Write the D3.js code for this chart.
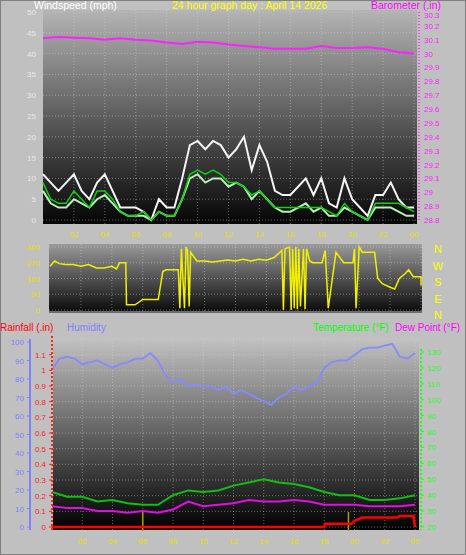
<!DOCTYPE html>
<html><head><meta charset="utf-8">
<script src="https://cdn.jsdelivr.net/npm/d3@7"></script>
<style>body{margin:0;background:#c0c0c0}svg{display:block;font-family:"Liberation Sans",Arial,sans-serif}</style>
</head><body><svg id="c" width="466" height="555"></svg>
<script>
// ---- data ----
var hoursHalf = d3.range(0, 24.01, 0.5);
var hoursFull = d3.range(0, 25);
var gust = [11,9,7,9,11,7,5,9,11,7,3,3,3,2,0,5,3,3,10,18,19,17,19,18,15,17,20,12,18,14,7,6,6,8,10,6,10,4,3,10,5,3,1,6,6,9,5,3,3];
var windAvg = [7,4,3,3,5,4,3,5,6,4,2,1,1,1,0,2,1,1,5,10,11,9,10,10,8,9,8,5,7,5,3,2,2,3,4,2,3,1,1,3,2,1,0,3,3,3,2,1,1];
var windSmooth = [9,5,4,4,7,5,3,7,7,5,2,1,1,2,0,2,1,1,5,11,12,11,12,11,9,9,8,6,7,5,3,3,3,3,3,3,3,2,1,4,2,1,0,4,4,4,4,3,2];
var baro = [30.11,30.12,30.115,30.11,30.10,30.11,30.10,30.095,30.08,30.07,30.085,30.08,30.065,30.055,30.045,30.035,30.035,30.035,30.055,30.04,30.04,30.045,30.035,30.01,30.0];
var dirData = [[0,250],[0.3,280],[0.6,265],[1,260],[1.5,260],[2,250],[2.5,260],[3,240],[3.5,240],[4,250],[4.3,235],[4.5,270],[4.9,270],[4.95,30],[5.5,30],[6,60],[6.5,60],[7,60],[7.3,220],[7.5,230],[8,230],[8.3,230],[8.4,10],[8.5,350],[8.7,10],[8.8,360],[8.9,340],[9.0,20],[9.1,330],[9.5,280],[10,280],[10.5,275],[11,280],[11.5,285],[12,280],[12.5,290],[13,280],[13.5,290],[14,285],[14.5,300],[15,340],[15.1,0],[15.2,350],[15.5,360],[15.6,0],[15.7,350],[15.8,10],[15.9,360],[16,5],[16.1,350],[16.2,20],[16.4,350],[16.5,5],[16.6,350],[16.8,280],[17,270],[17.2,270],[17.4,270],[17.6,270],[17.8,340],[18,10],[18.5,330],[19,270],[19.5,270],[19.6,270],[19.7,350],[19.8,10],[20,360],[20.2,330],[20.5,330],[21,330],[21.2,180],[21.5,150],[22,130],[22.3,120],[22.6,180],[23,210],[23.2,230],[23.5,190],[24,190],[24,140]];
var humidity = [85,91,92,91,88,89,90,88,86,88,89,91,91,94,90,82,78,80,76,77,76,76,74,76,72,74,72,70,68,66,70,72,76,74,76,78,86,89,90,90,93,96,97,97,98,99,92,91,94];
var temp = [42,39,39,36,37,35,34,34,40,43,42,43,46,48,50,48,47,45,42,40,40,37,37,38,40];
var dew = [33,32,32,30,30,29,30,29,31,36,33,34,35,37,36,36,37,36,34,34,34,33,33,33,34];
var rainData = [[0,0],[18,0],[18.05,0.02],[19.8,0.02],[20,0.04],[20.5,0.06],[22.8,0.06],[23,0.07],[23.9,0.07],[24,0]];
var lightning = [6, 19.6];
var hourTicks = [2,4,6,8,10,12,14,16,18,20,22,24];
var hourLabel = function(h){ return h === 24 ? "00" : d3.format("02")(h); };

var svg = d3.select("#c");
var defs = svg.append("defs");
function grad(id, top, bottom) {
  var g = defs.append("linearGradient").attr("id", id).attr("x1",0).attr("y1",0).attr("x2",0).attr("y2",1);
  g.append("stop").attr("offset","0%").attr("stop-color",top);
  g.append("stop").attr("offset","100%").attr("stop-color",bottom);
}
grad("g1","#b4b4b4","#050505");
grad("g2","#9a9a9a","#080808");
grad("g3","#c0c0c0","#000000");

function panel(x0,y0,x1,y1,gid){
  svg.append("rect").attr("x",x0).attr("y",y0).attr("width",x1-x0).attr("height",y1-y0).attr("fill","url(#"+gid+")");
}
function grid(x, y, xt, yt, x0, x1, y0, y1){
  var g = svg.append("g").attr("stroke","#d8d8d8").attr("stroke-opacity",0.45).attr("stroke-dasharray","1,2");
  xt.forEach(function(t){ g.append("line").attr("x1",x(t)).attr("x2",x(t)).attr("y1",y0).attr("y2",y1); });
  yt.forEach(function(t){ g.append("line").attr("x1",x0).attr("x2",x1).attr("y1",y(t)).attr("y2",y(t)); });
}
function text(x,y,s,col,size,anchor){
  return svg.append("text").attr("x",x).attr("y",y).attr("fill",col).attr("font-size",size||9).attr("text-anchor",anchor||"start").text(s);
}
function yAxis(scale, x, ticks, col, fmt, side, solid){
  var g = svg.append("g");
  g.append("line").attr("x1",x).attr("x2",x).attr("y1",scale.range()[1]-3).attr("y2",scale.range()[0]+3).attr("stroke",col).attr("stroke-width",2).attr("stroke-dasharray",solid?null:"2,2");
  ticks.forEach(function(t){
    var yy = scale(t);
    g.append("line").attr("x1",x).attr("x2",x+(side<0?-3:3)).attr("y1",yy).attr("y2",yy).attr("stroke",col);
    g.append("text").attr("x",x+(side<0?-6:6)).attr("y",yy+3).attr("fill",col).attr("font-size",8)
      .attr("text-anchor",side<0?"end":"start").text(fmt(t));
  });
}
function xLabels(x, y){
  hourTicks.forEach(function(h){ text(x(h), y, hourLabel(h), "#e0e000", 8, "middle"); });
}
function line(x,y,xs,ys,col,w){
  svg.append("path").datum(xs.map(function(d,i){return [d,ys[i]];}))
    .attr("d", d3.line().x(function(d){return x(d[0]);}).y(function(d){return y(d[1]);}))
    .attr("fill","none").attr("stroke",col).attr("stroke-width",w||1.5);
}

// ---- top panel: wind & barometer ----
var x1 = d3.scaleLinear().domain([0,24]).range([43,414]);
var yW = d3.scaleLinear().domain([0,50]).range([220,12]);
var yB = d3.scaleLinear().domain([28.8,30.3]).range([220,12]);
panel(43,10,417,224,"g1");
grid(x1, yW, hourTicks, d3.range(0,51,5), 43, 417, 10, 224);
line(x1,yW,hoursHalf,gust,"#f4f4f4",2);
line(x1,yW,hoursHalf,windAvg,"#b8f0b8",2);
line(x1,yW,hoursHalf,windSmooth,"#10d010",1.5);
line(x1,yB,hoursFull,baro,"#ff20ff",2);
d3.range(0,51,5).forEach(function(t){ text(36, yW(t)+3, t, "#e8e8f0", 8, "end"); });
svg.append("line").attr("x1",419).attr("x2",419).attr("y1",12).attr("y2",222).attr("stroke","#ff40ff").attr("stroke-width",2).attr("stroke-dasharray","1,2");
d3.range(28.8,30.31,0.1).forEach(function(t){ text(424, Math.max(yB(t)+3, 18), d3.format(".1f")(t).replace(/\.0$/,""), "#ff20ff", 8); });
xLabels(x1, 237);
text(34, 9, "Windspeed (mph)", "#ffffff", 10.5);
text(172, 9, "24 hour graph day : April 14 2026", "#ffff00", 10.5);
text(371, 9, "Barometer (.in)", "#ff00ff", 10.5);

// ---- middle panel: wind direction ----
var x2 = d3.scaleLinear().domain([0,24]).range([50,421]);
var yD = d3.scaleLinear().domain([0,360]).range([310,247]);
panel(49,244,422,313,"g2");
grid(x2, yD, hourTicks, [0,90,180,270,360], 49, 422, 244, 313);
svg.append("path").datum(dirData)
  .attr("d", d3.line().x(function(d){return x2(d[0]);}).y(function(d){return yD(d[1]);}))
  .attr("fill","none").attr("stroke","#f0f000").attr("stroke-width",1.5);
svg.append("line").attr("x1",49).attr("x2",422).attr("y1",312).attr("y2",312).attr("stroke","#d0d0d0");
[0,90,180,270,360].forEach(function(t){ text(40, yD(t)+3, t, "#e0e000", 8, "end"); });
["N","W","S","E","N"].forEach(function(s,i){ text(438, 253+i*16.5, s, "#ffff00", 11, "middle"); });

// ---- bottom panel: rain, humidity, temperature ----
var x3 = d3.scaleLinear().domain([0,24]).range([52,415]);
var yH = d3.scaleLinear().domain([0,100]).range([527,342]);
var yR = d3.scaleLinear().domain([0,1.2]).range([527,339]);
var yT = d3.scaleLinear().domain([20,130]).range([527,352]);
panel(53,340,419,530,"g3");
grid(x3, yR, hourTicks, d3.range(0,1.21,0.1), 53, 419, 340, 530);
line(x3,yH,hoursHalf,humidity,"#8888ff",1.8);
line(x3,yT,hoursFull,temp,"#10c010",2);
line(x3,yT,hoursFull,dew,"#e010e0",2);
lightning.forEach(function(h){
  svg.append("line").attr("x1",x3(h)).attr("x2",x3(h)).attr("y1",512).attr("y2",531).attr("stroke","#a0a000").attr("stroke-width",1.5);
});
svg.append("path").datum(rainData)
  .attr("d", d3.line().x(function(d){return x3(d[0]);}).y(function(d){return yR(d[1]);}))
  .attr("fill","none").attr("stroke","#ff0000").attr("stroke-width",2.5);
yAxis(yH, 30, d3.range(0,101,10), "#8080ff", String, -1, true);
yAxis(yR, 52, d3.range(0,1.11,0.1), "#ff2020", function(t){ return d3.format(".1f")(t).replace(/^0\.0$/,"0").replace(/\.0$/,""); }, -1, false);
yAxis(yT, 421, d3.range(20,131,10), "#20ff20", String, 1, false);
xLabels(x3, 544);
text(0, 331, "Rainfall (.in)", "#ff0000", 10);
text(67, 331, "Humidity", "#8080ff", 10);
text(313, 331, "Temperature (°F)", "#00ff00", 10);
text(395, 331, "Dew Point (°F)", "#ff00ff", 10);
svg.append("rect").attr("x",0.5).attr("y",0.5).attr("width",465).attr("height",554).attr("fill","none").attr("stroke","#808080");
</script></body></html>
